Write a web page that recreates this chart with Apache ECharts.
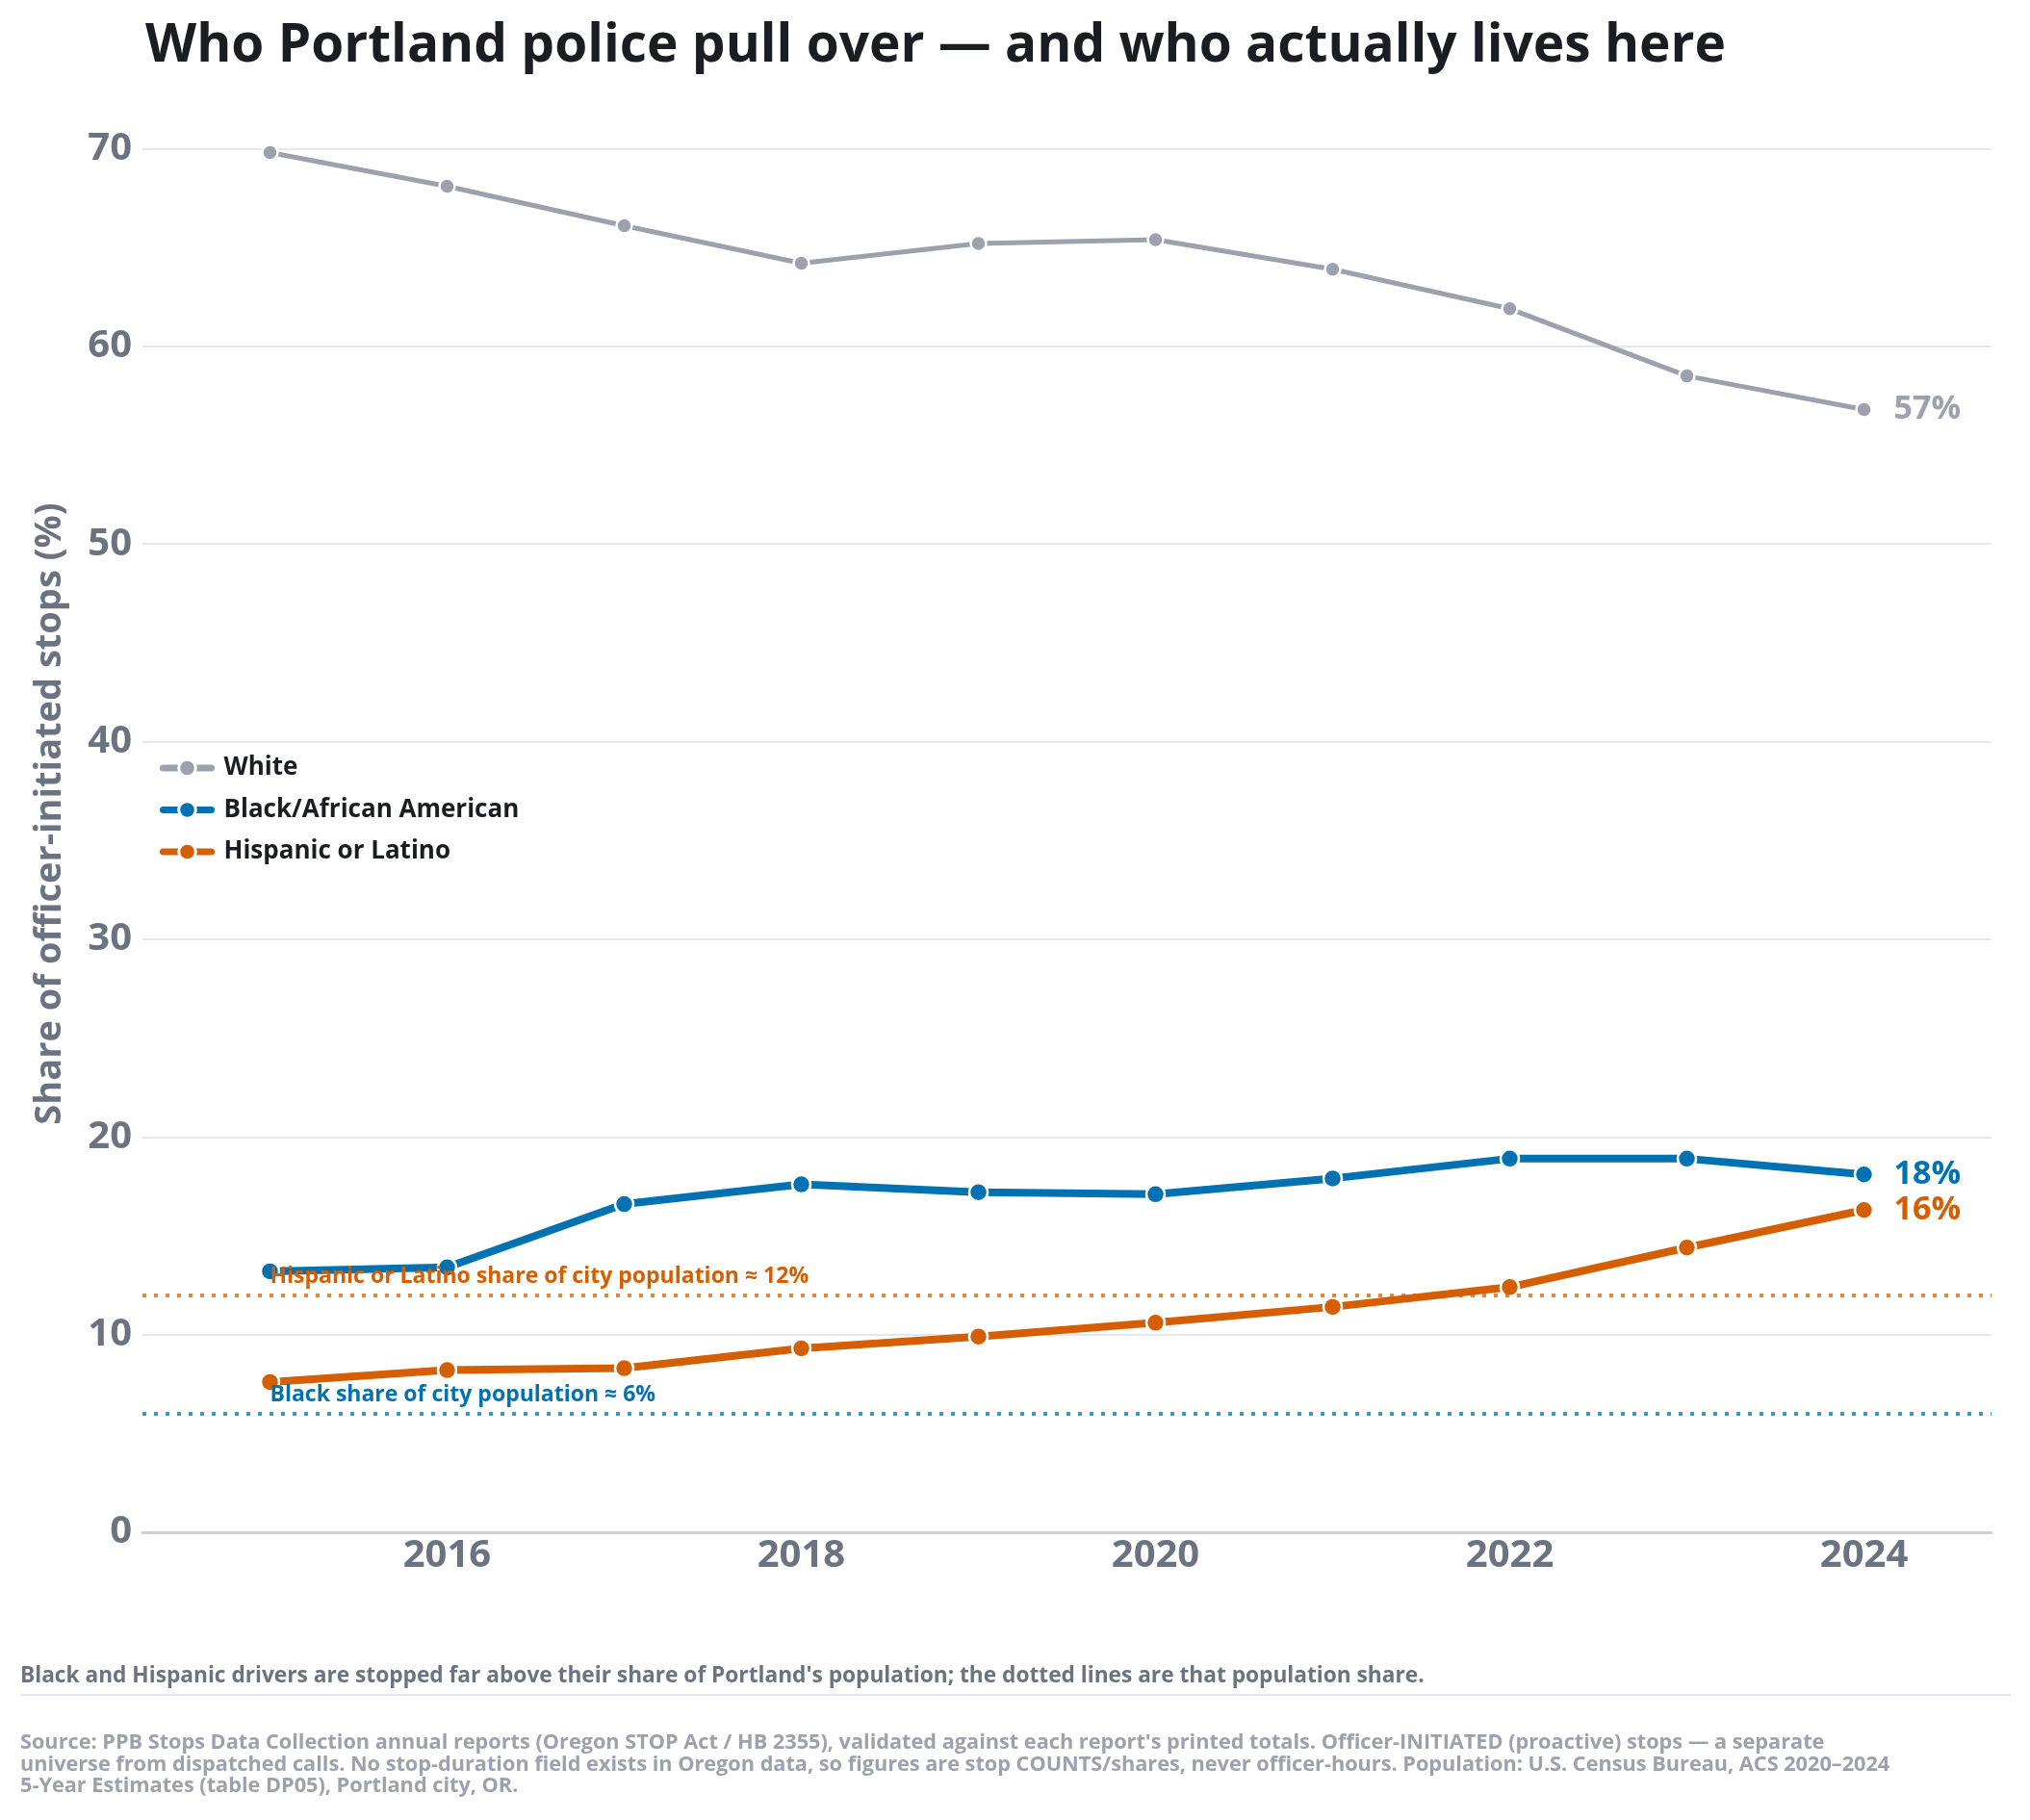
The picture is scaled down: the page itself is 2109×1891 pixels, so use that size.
<!DOCTYPE html>
<html lang="en">
<head>
    <meta charset="utf-8">
    <title>Who Portland police pull over</title>
    <script src="https://cdn.jsdelivr.net/npm/echarts@6/dist/echarts.min.js"></script>
    <style>
        html, body { margin: 0; padding: 0; background: #fff; }
        #main { width: 2109px; height: 1891px; }
    </style>
</head>
<body>
<div id="main"></div>
<script type="text/javascript">
    // data
    var years = [2015, 2016, 2017, 2018, 2019, 2020, 2021, 2022, 2023, 2024];
    var whiteShare = [69.8, 68.1, 66.1, 64.2, 65.2, 65.4, 63.9, 61.9, 58.5, 56.8];
    var blackShare = [13.2, 13.4, 16.6, 17.6, 17.2, 17.1, 17.9, 18.9, 18.9, 18.1];
    var hispanicShare = [7.6, 8.2, 8.3, 9.3, 9.9, 10.6, 11.4, 12.4, 14.4, 16.3];
    var yearTicks = [2016, 2018, 2020, 2022, 2024];
    var shareTicks = [0, 10, 20, 30, 40, 50, 60, 70];
    var blackPopShare = 6;
    var hispanicPopShare = 12;

    var FONT = '"Open Sans", Lato, sans-serif';
    var GRAY = '#9ca1ad', BLUE = '#0072b2', ORANGE = '#d55e00';

    function pairs(vals) {
        return years.map(function (y, i) { return [y, vals[i]]; });
    }

    // dotted population line plus its label, hung on a series
    function popLine(value, color, text) {
        return {
            markLine: {
                silent: true,
                symbol: 'none',
                lineStyle: { color: color, opacity: 0.75, width: 4, type: [4, 8] },
                label: { show: false },
                data: [{ yAxis: value }]
            },
            markPoint: {
                silent: true,
                symbol: 'circle',
                symbolSize: 0,
                label: {
                    show: true,
                    position: 'right',
                    distance: 0,
                    offset: [0, -19],
                    color: color,
                    fontFamily: FONT,
                    fontWeight: 'bold',
                    fontSize: 23,
                    formatter: text
                },
                data: [{ coord: [years[0], value] }]
            }
        };
    }

    function lineSeries(name, vals, color, width, size) {
        return {
            name: name,
            type: 'line',
            data: pairs(vals),
            symbol: 'circle',
            symbolSize: size,
            showAllSymbol: true,
            lineStyle: { color: color, width: width },
            itemStyle: { color: color, borderColor: '#fff', borderWidth: 2.5 },
            endLabel: {
                show: true,
                distance: 31,
                color: color,
                fontFamily: FONT,
                fontWeight: 'bold',
                fontSize: 34,
                formatter: function (p) { return Math.round(p.value[1]) + '%'; }
            },
            z: 3
        };
    }

    var blackSeries = lineSeries('Black/African American', blackShare, BLUE, 8, 19);
    var hispSeries = lineSeries('Hispanic or Latino', hispanicShare, ORANGE, 8, 19);
    var bl = popLine(blackPopShare, BLUE, 'Black share of city population \u2248 6%');
    var hl = popLine(hispanicPopShare, ORANGE, 'Hispanic or Latino share of city population \u2248 12%');
    blackSeries.markLine = bl.markLine; blackSeries.markPoint = bl.markPoint;
    hispSeries.markLine = hl.markLine; hispSeries.markPoint = hl.markPoint;

    var chart = echarts.init(document.getElementById('main'), null, { renderer: 'canvas' });

    var option = {
        animation: false,
        textStyle: { fontFamily: FONT },
        title: {
            text: 'Who Portland police pull over \u2014 and who actually lives here',
            left: 146,
            top: 16,
            textStyle: { color: '#1a1d21', fontSize: 55, fontWeight: 'bold', fontFamily: FONT }
        },
        legend: {
            orient: 'vertical',
            left: 161,
            top: 780,
            itemWidth: 50,
            itemHeight: 22,
            itemGap: 17.5,
            lineStyle: { width: 7, cap: 'round' },
            itemStyle: { borderColor: '#fff', borderWidth: 3 },
            textStyle: { color: '#1a1d21', fontSize: 26, fontWeight: 'bold', fontFamily: FONT, padding: [0, 0, 0, 8] },
            data: ['White', 'Black/African American', 'Hispanic or Latino']
        },
        grid: { left: 148, right: 40, top: 99, bottom: 299, containLabel: false },
        xAxis: {
            type: 'value',
            min: 2014.28,
            max: 2024.72,
            axisLine: { show: true, lineStyle: { color: '#cdd1d6', width: 3 } },
            axisTick: { show: false },
            splitLine: { show: false },
            axisLabel: {
                customValues: yearTicks,
                margin: 5,
                color: '#6b7280',
                fontSize: 40,
                fontWeight: 'bold',
                fontFamily: FONT,
                formatter: function (v) { return String(v); }
            }
        },
        yAxis: {
            type: 'value',
            min: 0,
            max: 72.7,
            name: 'Share of officer-initiated stops (%)',
            nameLocation: 'middle',
            nameGap: 77,
            nameTextStyle: { color: '#6b7280', fontSize: 38, fontWeight: 'bold', fontFamily: FONT },
            axisLine: { show: false },
            axisTick: { show: false, customValues: shareTicks },
            splitLine: { show: true, lineStyle: { color: '#e6e7eb', width: 2 } },
            axisLabel: {
                customValues: shareTicks,
                margin: 11,
                color: '#6b7280',
                fontSize: 40,
                fontWeight: 'bold',
                fontFamily: FONT
            }
        },
        graphic: [
            {
                type: 'text',
                left: 21,
                top: 1730,
                style: {
                    text: "Black and Hispanic drivers are stopped far above their share of Portland's population; the dotted lines are that population share.",
                    fill: '#6b7280',
                    font: 'bold 22.7px ' + FONT
                }
            },
            {
                type: 'rect',
                left: 21,
                top: 1760,
                shape: { width: 2068, height: 2 },
                style: { fill: '#e6e7eb' }
            },
            {
                type: 'text',
                left: 21,
                top: 1800,
                style: {
                    text: "Source: PPB Stops Data Collection annual reports (Oregon STOP Act / HB 2355), validated against each report's printed totals. Officer-INITIATED (proactive) stops \u2014 a separate\n" +
                        "universe from dispatched calls. No stop-duration field exists in Oregon data, so figures are stop COUNTS/shares, never officer-hours. Population: U.S. Census Bureau, ACS 2020\u20132024\n" +
                        "5-Year Estimates (table DP05), Portland city, OR.",
                    fill: '#9ca1ad',
                    font: 'bold 21.7px ' + FONT,
                    lineHeight: 22.5
                }
            }
        ],
        series: [
            lineSeries('White', whiteShare, GRAY, 5, 16),
            blackSeries,
            hispSeries
        ]
    };

    chart.setOption(option);
    window.addEventListener('resize', chart.resize);
</script>
</body>
</html>
